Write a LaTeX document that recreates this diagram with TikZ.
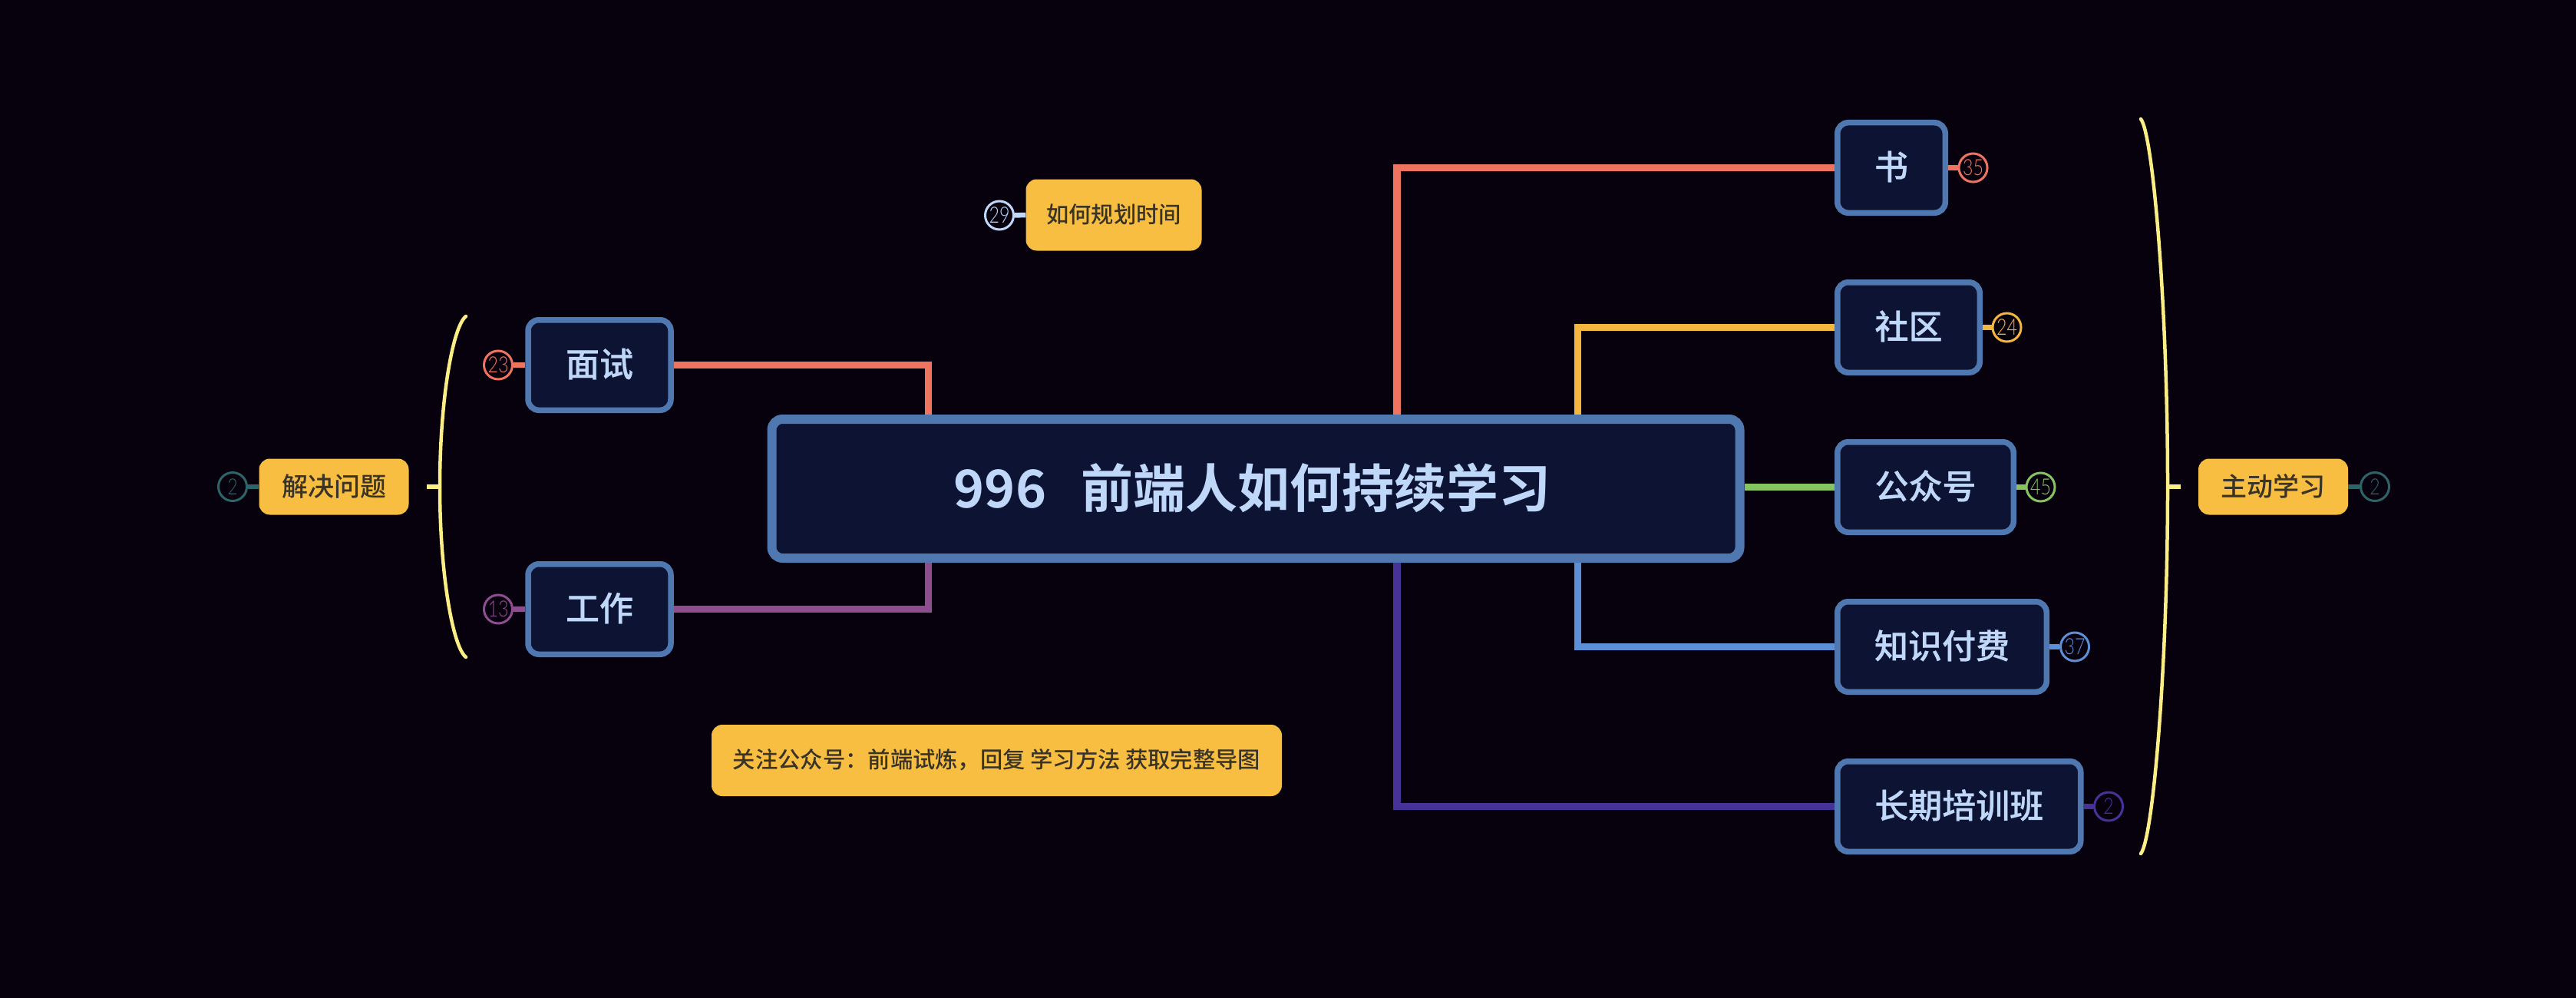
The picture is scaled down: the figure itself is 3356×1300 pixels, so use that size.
\documentclass[tikz,border=0pt]{standalone}
\usepackage{fontspec}
\setmainfont{Noto Sans CJK SC Medium}
\newfontfamily\titlefont{Noto Sans CJK SC Bold}
\newfontfamily\topicfont[FakeBold=0.6]{Noto Sans CJK SC Medium}
\newfontfamily\numfont[FakeStretch=0.8]{Lato Light}
\usepackage{tikz}
\usetikzlibrary{positioning,calc}

\definecolor{canvas}{HTML}{07000D}
\definecolor{navy}{HTML}{0D1333}
\definecolor{steel}{HTML}{4F77B0}
\definecolor{pale}{HTML}{BFD7F8}
\definecolor{gold}{HTML}{F7BE41}
\definecolor{ink}{HTML}{3A3327}
\definecolor{coral}{HTML}{EF7460}
\definecolor{amber}{HTML}{F5B63F}
\definecolor{leaf}{HTML}{86C45F}
\definecolor{sky}{HTML}{5B8FD8}
\definecolor{indigo}{HTML}{453399}
\definecolor{plum}{HTML}{8E4D8E}
\definecolor{teal}{HTML}{2C6468}
\definecolor{lemon}{HTML}{FBEE84}

\tikzset{
    rootbox/.style={draw=steel,fill=navy,line width=12pt,rounded corners=14pt,
        text=pale,font=\fontsize{68}{80}\titlefont,text height=54pt,text depth=4.4pt,
        minimum width=1261pt,minimum height=181pt},
    topicbox/.style={draw=steel,fill=navy,line width=7.5pt,rounded corners=14pt,
        text=pale,font=\fontsize{44}{52}\topicfont,text height=35pt,text depth=4.6pt,
        minimum height=117.5pt,inner sep=0pt},
    notebox/.style={fill=gold,rounded corners=14pt,text=ink,inner sep=0pt},
    bignote/.style={notebox,minimum width=195pt,minimum height=73pt,
        font=\fontsize{34}{40}\selectfont,text height=28pt,text depth=2.2pt},
    smallnote/.style={notebox,minimum height=93pt,
        font=\fontsize{29.3}{34}\selectfont,text height=22pt,text depth=2pt},
    badge/.style={draw=#1,text=#1,circle,line width=3pt,fill=canvas,inner sep=0pt,
        minimum size=37pt,font=\fontsize{29}{34}\numfont},
    branch/.style={draw=#1,line width=9.5pt,miter limit=10},
    stub/.style={draw=#1,line width=6.5pt},
    brace/.style={draw=lemon,line width=4.5pt,line cap=round}
}

\begin{document}
\begin{tikzpicture}[x=1pt,y=-1pt]
    \fill[canvas] (0,0) rectangle (3356,1300);

    \node[rootbox] (root) at (1636,636.5) {996\hspace{45pt}前端人如何持续学习\hspace{9pt}\null};

    \coordinate (rootfaceup) at (1209.5,540);
    \coordinate (rootworkdown) at (1209.5,733);
    \coordinate (rootbookup) at (1820,540);
    \coordinate (rootclassdown) at (1820,733);
    \coordinate (rootgroupup) at (2055.5,540);
    \coordinate (rootpaiddown) at (2055.5,733);

    \node[topicbox,minimum width=186pt] (face) at (781,475.5) {面试};
    \node[topicbox,minimum width=186pt] (work) at (781,793.5) {工作};
    \node[topicbox,minimum width=140.5pt,anchor=west] (book) at (2390,218.5) {书};
    \node[topicbox,minimum width=185.5pt,anchor=west] (group) at (2390,426.5) {社区};
    \node[topicbox,minimum width=229.5pt,anchor=west] (media) at (2390,634.5) {公众号};
    \node[topicbox,minimum width=272.5pt,anchor=west] (paid) at (2390,842.5) {知识付费};
    \node[topicbox,minimum width=317pt,anchor=west] (class) at (2390,1050.5) {长期培训班};

    \draw[branch=coral] (face.east) -| (rootfaceup);
    \draw[branch=plum] (work.east) -| (rootworkdown);
    \draw[branch=coral] (book.west) -| (rootbookup);
    \draw[branch=amber] (group.west) -| (rootgroupup);
    \draw[branch=leaf] (media.west) -- (root.east |- media.west);
    \draw[branch=sky] (paid.west) -| (rootpaiddown);
    \draw[branch=indigo] (class.west) -| (rootclassdown);

    \node[badge=coral] (facenum) at (649,475.5) {23};
    \node[badge=plum] (worknum) at (649,793.5) {13};
    \node[badge=coral] (booknum) at (2570.5,218.5) {35};
    \node[badge=amber] (groupnum) at (2614.5,426.5) {24};
    \node[badge=leaf] (medianum) at (2658.5,634.5) {45};
    \node[badge=sky] (paidnum) at (2703,842.5) {37};
    \node[badge=indigo] (classnum) at (2747,1050.5) {2};

    \draw[stub=coral] (face.west) -- (facenum.east);
    \draw[stub=plum] (work.west) -- (worknum.east);
    \draw[stub=coral] (book.east) -- (booknum.west);
    \draw[stub=amber] (group.east) -- (groupnum.west);
    \draw[stub=leaf] (media.east) -- (medianum.west);
    \draw[stub=sky] (paid.east) -- (paidnum.west);
    \draw[stub=indigo] (class.east) -- (classnum.west);

    \node[bignote] (solve) at (435,634) {解决问题};
    \node[bignote] (active) at (2961.5,634) {主动学习};
    \node[smallnote,minimum width=229pt] (plan) at (1451,280) {如何规划时间};
    \node[smallnote,minimum width=743pt] (follow) at (1298.5,990.5) {关注公众号：前端试炼，回复 学习方法 获取完整导图};

    \node[badge=teal] (solvenum) at (303,634) {2};
    \node[badge=teal] (activenum) at (3094,634) {2};
    \node[badge=pale] (plannum) at (1302,280.5) {29};

    \draw[stub=teal] (solve.west) -- (solvenum.east);
    \draw[stub=teal] (active.east) -- (activenum.west);
    \draw[stub=pale] (plan.west) -- (plannum.east);

    \coordinate (leftmid) at (573,634);
    \coordinate (lefttip) at (556,634);
    \coordinate (rightmid) at (2824,634);
    \coordinate (righttip) at (2841,634);

    \draw[brace] (607,412) .. controls (590,425) and (573,520) .. (leftmid)
        .. controls (573,748) and (590,843) .. (607,856);
    \draw[brace] (2789,155) .. controls (2805,175) and (2824,400) .. (rightmid)
        .. controls (2824,868) and (2805,1092) .. (2789,1112);
    \draw[brace,line cap=butt,line width=6pt] (lefttip) -- (leftmid);
    \draw[brace,line cap=butt,line width=6pt] (righttip) -- (rightmid);
\end{tikzpicture}
\end{document}
